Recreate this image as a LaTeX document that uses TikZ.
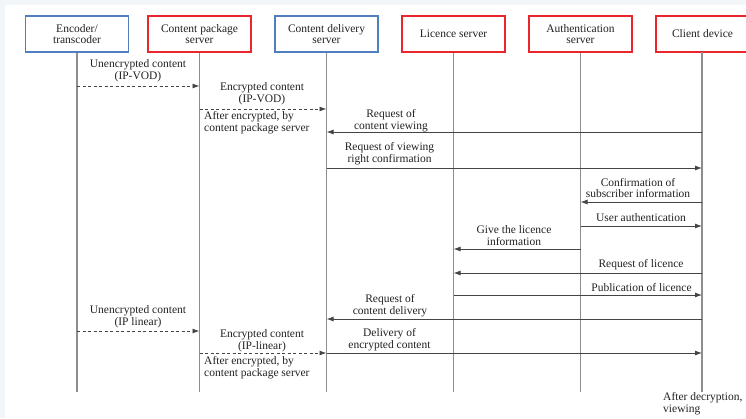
\documentclass[tikz,border=0pt]{standalone}
\usepackage{fontspec}
\setmainfont{Liberation Serif}
\usetikzlibrary{arrows.meta}
\definecolor{bgg}{HTML}{F3F6F9}
\definecolor{bblue}{HTML}{4F7FBF}
\definecolor{bred}{HTML}{E8262B}
\definecolor{lifeg}{HTML}{8E8E8E}
\definecolor{arrg}{HTML}{444444}
\definecolor{txt}{HTML}{222222}
\tikzset{
  actor/.style={draw, line width=1.6pt, fill=white, minimum width=103pt, minimum height=36pt,
    align=center, inner sep=0pt, text=txt, font=\fontsize{11.5}{11.8}\selectfont},
  blueact/.style={actor, draw=bblue},
  redact/.style={actor, draw=bred},
  life/.style={draw=lifeg, line width=1.5pt},
  msg/.style={draw=arrg, line width=0.9pt, -{Latex[length=7pt,width=5pt]}},
  dmsg/.style={msg, dash pattern=on 3pt off 2.5pt},
  lbl/.style={align=center, inner sep=0pt, text=txt, font=\fontsize{11.5}{11.8}\selectfont},
  lbll/.style={lbl, align=left, anchor=west},
}
\begin{document}
\begin{tikzpicture}[x=1pt,y=-1pt]
\useasboundingbox (0,0) rectangle (746,418);
\clip (0,0) rectangle (746,418);
\fill[bgg] (0,0) rectangle (746,418);
\fill[white] (5,5) rectangle (750,420);

% actors
\node[blueact] (enc) at (77,34) {Encoder/\\transcoder};
\node[redact]  (cps) at (199.5,34) {Content package\\server};
\node[blueact] (cds) at (326.5,34) {Content delivery\\server};
\node[redact]  (lic) at (453.5,34) {Licence server};
\node[redact]  (aut) at (580.5,34) {Authentication\\server};
\node[redact, minimum width=93pt]  (cli) at (702.5,34) {Client device};

% lifeline ends
\coordinate (encE) at (77,392);
\coordinate (cpsE) at (199.5,392);
\coordinate (cdsE) at (326.5,392);
\coordinate (licE) at (453.5,392);
\coordinate (autE) at (580.5,392);
\coordinate (cliE) at (702,392);
\coordinate (cliT) at (702,52);

\draw[life] (enc.south) -- (encE);
\draw[life] (cps.south) -- (cpsE);
\draw[life] (cds.south) -- (cdsE);
\draw[life] (lic.south) -- (licE);
\draw[life] (aut.south) -- (autE);
\draw[life] (cliT) -- (cliE);

% message end points
\coordinate (m1a) at (77,86);    \coordinate (m1b) at (199.5,86);
\coordinate (m2a) at (199.5,109); \coordinate (m2b) at (326.5,109);
\coordinate (m3a) at (702,132);  \coordinate (m3b) at (326.5,132);
\coordinate (m4a) at (326.5,168); \coordinate (m4b) at (702,168);
\coordinate (m5a) at (702,202);  \coordinate (m5b) at (580.5,202);
\coordinate (m6a) at (580.5,226); \coordinate (m6b) at (702,226);
\coordinate (m7a) at (580.5,249); \coordinate (m7b) at (453.5,249);
\coordinate (m8a) at (702,273);  \coordinate (m8b) at (453.5,273);
\coordinate (m9a) at (453.5,295); \coordinate (m9b) at (702,295);
\coordinate (m10a) at (702,319); \coordinate (m10b) at (326.5,319);
\coordinate (m11a) at (77,331);  \coordinate (m11b) at (199.5,331);
\coordinate (m12a) at (199.5,353); \coordinate (m12b) at (326.5,353);
\coordinate (m13a) at (326.5,353); \coordinate (m13b) at (702,353);

\draw[dmsg] (m1a) -- (m1b);
\draw[dmsg] (m2a) -- (m2b);
\draw[msg] (m3a) -- (m3b);
\draw[msg] (m4a) -- (m4b);
\draw[msg] (m5a) -- (m5b);
\draw[msg] (m6a) -- (m6b);
\draw[msg] (m7a) -- (m7b);
\draw[msg] (m8a) -- (m8b);
\draw[msg] (m9a) -- (m9b);
\draw[msg] (m10a) -- (m10b);
\draw[dmsg] (m11a) -- (m11b);
\draw[dmsg] (m12a) -- (m12b);
\draw[msg] (m13a) -- (m13b);

% labels
\node[lbl] (l1) at (138,70.5) {Unencrypted content\\(IP-VOD)};
\node[lbl] (l2) at (262,94) {Encrypted content\\(IP-VOD)};
\node[lbll] (l2b) at (204,123) {After encrypted, by\\content package server};
\node[lbl] (l3) at (391,121) {Request of\\content viewing};
\node[lbl] (l4) at (389.5,154) {Request of viewing\\right confirmation};
\node[lbl] (l5) at (638,188) {Confirmation of\\subscriber information};
\node[lbl] (l6) at (641,218) {User authentication};
\node[lbl] (l7) at (514,235.5) {Give the licence\\information};
\node[lbl] (l8) at (641,265) {Request of licence};
\node[lbl] (l9) at (641.5,288) {Publication of licence};
\node[lbl] (l10) at (390,305.5) {Request of\\content delivery};
\node[lbl] (l11) at (138,317) {Unencrypted content\\(IP linear)};
\node[lbl] (l12) at (262,340.5) {Encrypted content\\(IP-linear)};
\node[lbll] (l12b) at (204,368) {After encrypted, by\\content package server};
\node[lbl] (l13) at (389.5,339.5) {Delivery of\\encrypted content};
\node[lbll] (l14) at (663,404) {After decryption,\\viewing};
\end{tikzpicture}
\end{document}
